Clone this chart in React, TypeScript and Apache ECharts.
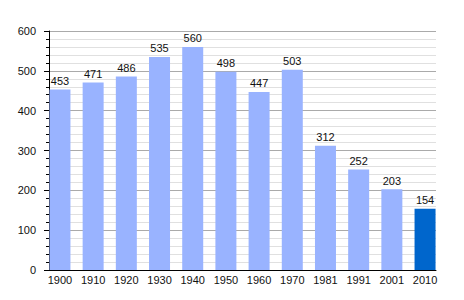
import React, { useEffect, useRef } from "react";
import * as echarts from "echarts";

const years = ["1900", "1910", "1920", "1930", "1940", "1950", "1960", "1970", "1981", "1991", "2001", "2010"];
const population = [453, 471, 486, 535, 560, 498, 447, 503, 312, 252, 203, 154];
const yTicks = { min: 0, max: 600, interval: 100 };

const FONT = "'Liberation Sans', Arial, sans-serif";

export default function App() {
  const ref = useRef<HTMLDivElement>(null);
  useEffect(() => {
    if (!ref.current) return;
    const chart = echarts.init(ref.current, undefined, { renderer: "svg" });
    const last = population.length - 1;
    chart.setOption({
      animation: false,
      backgroundColor: "#ffffff",
      grid: { left: 49, right: 28, top: 31, bottom: 30, containLabel: false },
      xAxis: {
        type: "value",
        min: -0.33,
        max: last + 0.33,
        axisLine: { show: true, onZero: false, lineStyle: { color: "#000", width: 1 } },
        axisTick: { show: false },
        splitLine: { show: false },
        axisLabel: {
          customValues: years.map((_, i) => i),
          formatter: (v: number) => years[Math.round(v)] ?? "",
          color: "#111",
          fontSize: 11,
          fontFamily: FONT,
          margin: 4,
        },
      },
      yAxis: {
        type: "value",
        min: yTicks.min,
        max: yTicks.max,
        interval: yTicks.interval,
        axisLine: { show: true, onZero: false, lineStyle: { color: "#000", width: 1 } },
        axisTick: { show: true, length: 5, lineStyle: { color: "#000" } },
        minorTick: { show: true, splitNumber: 5, length: 3, lineStyle: { color: "#000" } },
        splitLine: { show: true, lineStyle: { color: "#aaaaaa", width: 1 } },
        minorSplitLine: { show: true, lineStyle: { color: "#e0e0e0", width: 1 } },
        axisLabel: {
          color: "#111",
          fontSize: 11,
          fontFamily: FONT,
          margin: 13,
        },
      },
      series: [
        {
          type: "bar",
          barWidth: 21,
          data: population.map((v, i) => ({
            value: [i, v],
            itemStyle: { color: i === last ? "#0066cc" : "#99b3ff" },
          })),
          label: {
            show: true,
            position: "top",
            distance: 3,
            formatter: (p: any) => String(p.value[1]),
            color: "#111",
            fontSize: 11,
            fontFamily: FONT,
          },
        },
      ],
    });
    return () => chart.dispose();
  }, []);
  return (
    <div
      ref={ref}
      style={{ position: "absolute", left: 0, top: 0, width: 464, height: 300 }}
    />
  );
}
